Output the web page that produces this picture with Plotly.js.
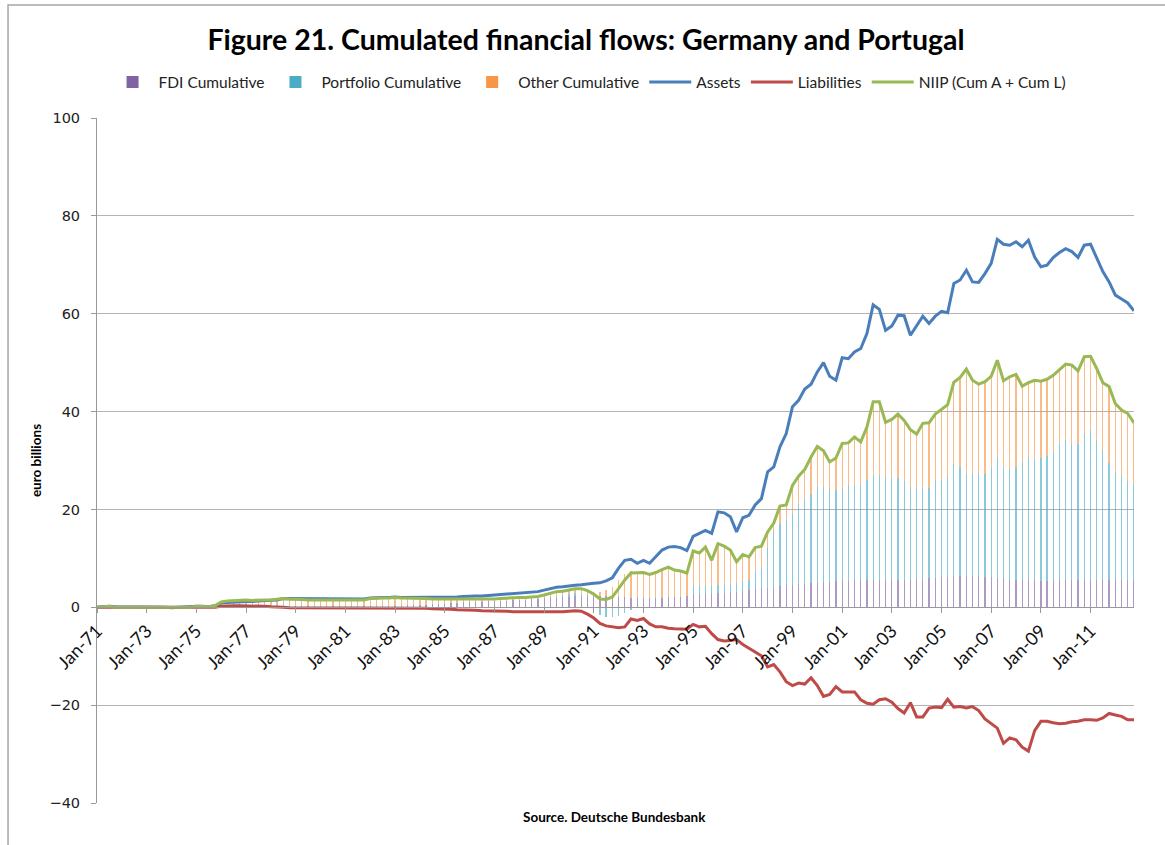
<!DOCTYPE html>
<html>
<head>
<meta charset="utf-8">
<script src="https://cdn.plot.ly/plotly-3.0.1.min.js"></script>
<style>html,body{margin:0;padding:0;background:#fff;}#chart{width:1165px;height:845px;}</style>
</head>
<body>
<div id="chart"></div>
<script>
// Quarterly observations, 1971 Q1 .. 2012 Q4 (168 quarters)
const startYear = 1971;
const endYear = 2012;

const assets = [
  0, 0.1, 0.2, 0.1, 0.1, 0, 0, 0,
  0, 0.1, 0, 0, -0.1, 0, 0.1, 0.1,
  0.2, 0.2, 0.1, 0.3, 0.9, 1.0, 1.1, 1.1,
  1.2, 1.2, 1.3, 1.3, 1.4, 1.5, 1.8, 1.8,
  1.8, 1.7, 1.7, 1.7, 1.7, 1.7, 1.7, 1.7,
  1.8, 1.8, 1.8, 1.7, 1.9, 2.0, 2.0, 2.0,
  2.1, 2.0, 2.0, 2.0, 2.0, 2.0, 2.0, 2.0,
  2.1, 2.1, 2.1, 2.2, 2.3, 2.3, 2.3, 2.4,
  2.5, 2.6, 2.7, 2.8, 2.9, 3.0, 3.1, 3.2,
  3.5, 3.8, 4.1, 4.2, 4.4, 4.5, 4.6, 4.8,
  4.9, 5.0, 5.4, 6.0, 8.0, 9.6, 9.8, 9.0,
  9.6, 9.0, 10.3, 11.7, 12.3, 12.4, 12.2, 11.6,
  14.5, 15.1, 15.7, 15.1, 19.5, 19.3, 18.5, 15.4,
  18.3, 18.8, 20.9, 22.2, 27.7, 28.7, 32.8, 35.5,
  41.0, 42.3, 44.6, 45.6, 48.1, 50.0, 47.2, 46.4,
  51.0, 50.8, 52.2, 52.9, 56.0, 61.8, 60.9, 56.6,
  57.5, 59.7, 59.6, 55.6, 57.7, 59.5, 58.0, 59.5,
  60.5, 60.2, 66.2, 66.9, 68.9, 66.5, 66.4, 68.2,
  70.3, 75.2, 74.2, 74.0, 74.7, 73.7, 75.0, 71.6,
  69.6, 69.9, 71.5, 72.5, 73.3, 72.7, 71.5, 74.0,
  74.2, 71.3, 68.6, 66.5, 63.8, 63.0, 62.2, 60.6
];

const liabilities = [
  0, 0, 0, -0.1, -0.1, 0, 0, -0.1,
  -0.1, -0.1, 0, 0, 0, -0.1, -0.1, -0.1,
  0, 0, 0, 0, 0.2, 0.3, 0.3, 0.3,
  0.3, 0.2, 0.2, 0.2, 0.1, 0.1, 0, -0.1,
  -0.1, -0.1, -0.2, -0.2, -0.2, -0.2, -0.2, -0.2,
  -0.2, -0.2, -0.2, -0.2, -0.1, -0.1, -0.1, -0.1,
  -0.1, -0.1, -0.1, -0.1, -0.2, -0.2, -0.3, -0.3,
  -0.4, -0.4, -0.5, -0.5, -0.6, -0.6, -0.7, -0.7,
  -0.8, -0.8, -0.8, -0.9, -0.9, -1.0, -1.0, -1.0,
  -1.0, -1.0, -0.9, -0.9, -0.8, -0.7, -0.8, -1.4,
  -2.2, -3.3, -3.8, -4.0, -4.2, -4.0, -2.4, -2.7,
  -2.3, -3.4, -4.0, -4.0, -4.3, -4.4, -4.4, -4.5,
  -3.5, -4.0, -3.9, -5.4, -6.6, -6.9, -6.8, -6.6,
  -7.6, -8.4, -9.2, -9.9, -12.2, -11.7, -13.2, -15.2,
  -16.0, -15.5, -15.7, -14.4, -16.0, -18.2, -17.8, -16.2,
  -17.3, -17.3, -17.3, -18.9, -19.6, -19.8, -18.9, -18.7,
  -19.4, -20.7, -21.6, -19.5, -22.4, -22.4, -20.6, -20.4,
  -20.5, -18.8, -20.4, -20.3, -20.6, -20.3, -21.1, -22.8,
  -23.7, -24.7, -27.8, -26.7, -27.1, -28.6, -29.4, -25.2,
  -23.3, -23.3, -23.6, -23.8, -23.7, -23.4, -23.3, -23.0,
  -23.0, -23.1, -22.6, -21.7, -22.0, -22.3, -23.0, -23.0
];

const niip = [
  0, 0.1, 0.2, 0, 0, 0, 0, -0.1,
  -0.1, 0, 0, 0, -0.1, -0.1, 0, 0,
  0.2, 0.2, 0.1, 0.3, 1.1, 1.3, 1.4, 1.4,
  1.5, 1.4, 1.5, 1.5, 1.5, 1.6, 1.8, 1.7,
  1.7, 1.6, 1.5, 1.5, 1.5, 1.5, 1.5, 1.5,
  1.6, 1.6, 1.6, 1.5, 1.8, 1.9, 1.9, 1.9,
  2.0, 1.9, 1.9, 1.9, 1.8, 1.8, 1.7, 1.7,
  1.7, 1.7, 1.6, 1.7, 1.7, 1.7, 1.6, 1.7,
  1.7, 1.8, 1.9, 1.9, 2.0, 2.0, 2.1, 2.2,
  2.5, 2.8, 3.2, 3.3, 3.6, 3.8, 3.8, 3.4,
  2.7, 1.7, 1.6, 2.1, 3.8, 5.6, 7.0, 7.0,
  7.1, 6.7, 7.1, 7.7, 8.2, 7.6, 7.4, 7.0,
  11.5, 11.1, 12.3, 9.6, 13.0, 12.5, 11.7, 9.3,
  10.8, 10.3, 12.2, 12.5, 15.4, 17.2, 20.7, 20.9,
  24.9, 26.8, 28.2, 30.7, 32.9, 32.0, 29.7, 30.5,
  33.5, 33.6, 34.8, 33.8, 36.9, 42.0, 42.0, 37.8,
  38.4, 39.5, 38.2, 36.3, 35.4, 37.6, 37.7, 39.5,
  40.4, 41.4, 46.0, 47.0, 48.7, 46.4, 45.6, 46.1,
  47.2, 50.5, 46.3, 47.1, 47.6, 45.2, 45.9, 46.4,
  46.2, 46.6, 47.4, 48.5, 49.7, 49.5, 48.3, 51.2,
  51.3, 48.8, 45.9, 45.1, 41.6, 40.3, 39.6, 37.7
];

const fdiCum = [
  0, 0, 0, 0, 0, 0, 0, 0,
  0, 0, 0, 0, 0, 0, 0, 0,
  0, 0, 0, 0, 0.1, 0.1, 0.1, 0.1,
  0.1, 0.1, 0.1, 0.1, 0.1, 0.1, 0.1, 0.1,
  0.2, 0.2, 0.2, 0.2, 0.2, 0.2, 0.2, 0.2,
  0.2, 0.2, 0.2, 0.2, 0.2, 0.2, 0.2, 0.2,
  0.3, 0.3, 0.4, 0.4, 0.5, 0.5, 0.6, 0.6,
  0.7, 0.8, 0.9, 1.0, 1.0, 1.1, 1.1, 1.2,
  1.2, 1.3, 1.3, 1.4, 1.5, 1.5, 1.6, 1.7,
  1.8, 1.9, 2.0, 2.1, 2.2, 2.3, 2.3, 2.4,
  2.4, 2.4, 2.3, 2.2, 2.2, 2.1, 2.0, 2.0,
  1.9, 1.9, 2.0, 2.0, 2.1, 2.1, 2.2, 2.4,
  2.7, 2.8, 2.8, 2.9, 3.0, 3.0, 3.1, 3.2,
  3.4, 3.6, 3.8, 3.9, 4.0, 4.2, 4.4, 4.5,
  4.6, 4.7, 4.8, 4.9, 5.0, 5.1, 5.2, 5.3,
  5.4, 5.4, 5.5, 5.5, 5.5, 5.6, 5.6, 5.6,
  5.6, 5.6, 5.6, 5.6, 5.7, 5.8, 5.9, 6.0,
  6.1, 6.2, 6.3, 6.3, 6.3, 6.3, 6.3, 6.2,
  6.1, 6.0, 6.0, 5.6, 5.5, 5.5, 5.5, 5.5,
  5.4, 5.4, 5.4, 5.5, 5.5, 5.5, 5.6, 5.6,
  5.6, 5.6, 5.6, 5.6, 5.6, 5.5, 5.5, 5.5
];

const portfolioCum = [
  0, 0, 0, 0, 0, 0, 0, 0,
  0, 0, 0, 0, 0, 0, 0, 0,
  0, 0, 0, 0, 0, 0, 0, 0,
  0, 0, 0, 0, 0, 0, 0, 0,
  0, 0, 0, 0, 0, 0, 0, 0,
  0, 0, 0, 0, 0, 0, 0, 0,
  0, 0, 0, 0, 0, 0, 0, 0,
  0, 0, 0, 0, 0, 0, 0, 0,
  0, 0, 0, 0, 0, 0, 0, 0,
  0.2, 0.3, 0.4, 0.5, 0.6, 0.6, 0.5, 0.3,
  -0.5, -1.5, -2.0, -2.0, -1.7, -1.2, -0.5, 0,
  0, 0, 0, 0, 0, 0, 0, 0,
  1.6, 1.6, 1.6, 1.5, 1.5, 1.5, 1.6, 1.7,
  1.9, 1.9, 3.6, 4.3, 8.3, 11.2, 12.6, 13.5,
  14.4, 16.5, 17.4, 18.3, 19.7, 19.4, 18.9, 18.7,
  18.7, 19.5, 19.4, 19.4, 20.6, 21.5, 21.4, 21.3,
  20.9, 20.9, 20.2, 19.0, 18.9, 18.5, 18.4, 20.0,
  20.2, 20.4, 22.9, 22.3, 21.0, 21.0, 20.9, 21.1,
  22.5, 24.5, 22.5, 22.6, 23.2, 24.2, 25.2, 24.7,
  25.1, 25.5, 26.4, 28.0, 28.7, 27.8, 27.7, 29.9,
  30.7, 28.6, 26.6, 23.8, 22.1, 21.5, 20.3, 19.8
];

const otherCum = [
  0, 0.1, 0.2, 0, 0, 0, 0, -0.1,
  -0.1, 0, 0, 0, -0.1, -0.1, 0, 0,
  0.2, 0.2, 0.1, 0.3, 1.0, 1.2, 1.3, 1.3,
  1.4, 1.3, 1.4, 1.4, 1.4, 1.5, 1.7, 1.6,
  1.5, 1.4, 1.3, 1.3, 1.3, 1.3, 1.3, 1.3,
  1.4, 1.4, 1.4, 1.3, 1.6, 1.7, 1.7, 1.7,
  1.7, 1.6, 1.5, 1.5, 1.3, 1.3, 1.1, 1.1,
  1.0, 0.9, 0.7, 0.7, 0.7, 0.6, 0.5, 0.5,
  0.5, 0.5, 0.6, 0.5, 0.5, 0.5, 0.5, 0.5,
  0.5, 0.6, 0.8, 0.7, 0.8, 0.9, 1.0, 0.7,
  0.8, 0.8, 1.3, 1.9, 3.3, 4.7, 5.5, 5.0,
  5.2, 4.8, 5.1, 5.7, 6.1, 5.5, 5.2, 4.6,
  7.2, 6.7, 7.9, 5.2, 8.5, 8.0, 7.0, 4.4,
  5.5, 4.8, 4.8, 4.3, 3.1, 1.8, 3.7, 2.9,
  5.9, 5.6, 6.0, 7.5, 8.2, 7.5, 5.6, 6.5,
  9.4, 8.7, 9.9, 8.9, 10.8, 14.9, 15.0, 10.9,
  11.9, 13.0, 12.4, 11.7, 10.8, 13.3, 13.4, 13.5,
  14.1, 14.8, 16.8, 18.4, 21.4, 19.1, 18.4, 18.8,
  18.6, 20.0, 17.8, 18.9, 18.9, 15.5, 15.2, 16.2,
  15.7, 15.7, 15.6, 15.0, 15.5, 16.2, 15.0, 15.7,
  15.0, 14.6, 13.7, 15.7, 13.9, 13.3, 13.8, 12.4
];

const tickLabels = ['Jan-71','Jan-73','Jan-75','Jan-77','Jan-79','Jan-81','Jan-83','Jan-85',
  'Jan-87','Jan-89','Jan-91','Jan-93','Jan-95','Jan-97','Jan-99','Jan-01','Jan-03',
  'Jan-05','Jan-07','Jan-09','Jan-11'];
const tickDates = ['1971-01-01','1973-01-01','1975-01-01','1977-01-01','1979-01-01','1981-01-01',
  '1983-01-01','1985-01-01','1987-01-01','1989-01-01','1991-01-01','1993-01-01','1995-01-01',
  '1997-01-01','1999-01-01','2001-01-01','2003-01-01','2005-01-01','2007-01-01','2009-01-01','2011-01-01'];

// quarter start dates (categories of the x axis)
const months = ['01','04','07','10'];
const quarters = [];
for (let y = startYear; y <= endYear; y++) {
  for (const m of months) quarters.push(y + '-' + m + '-01');
}

const barW = 1.6e9;
const mkBar = (name, y, color) => ({
  type: 'bar', name: name, x: quarters, y: y,
  width: barW, marker: {color: color, opacity: 0.65, line: {width: 0}},
  hoverinfo: 'skip'
});
const mkLine = (name, y, color) => ({
  type: 'scatter', mode: 'lines', name: name, x: quarters, y: y,
  line: {color: color, width: 3}, hoverinfo: 'skip'
});

const data = [
  mkBar('FDI Cumulative', fdiCum, '#8064A2'),
  mkBar('Portfolio Cumulative', portfolioCum, '#4BACC6'),
  mkBar('Other Cumulative', otherCum, '#F79646'),
  mkLine('Assets', assets, '#4A7EBB'),
  mkLine('Liabilities', liabilities, '#BE4B48'),
  mkLine('NIIP (Cum A + Cum L)', niip, '#98B954')
];

const gridCol = '#B3B3B3';
const layout = {
  width: 1165, height: 845,
  paper_bgcolor: '#ffffff', plot_bgcolor: '#ffffff',
  margin: {l: 97, r: 31, t: 118, b: 42},
  barmode: 'relative', bargap: 0,
  showlegend: true,
  font: {family: 'Lato, "Open Sans", sans-serif', color: '#000'},
  title: {
    text: '<b>Figure 21. Cumulated financial flows: Germany and Portugal</b>',
    font: {family: 'Lato, "Open Sans", sans-serif', size: 28.5, color: '#000'},
    x: 0.503, xref: 'container', xanchor: 'center',
    y: 0.953, yref: 'container', yanchor: 'middle'
  },
  legend: {
    orientation: 'h', traceorder: 'normal',
    x: 0.4745, xanchor: 'center', y: 1.052, yanchor: 'middle',
    font: {family: 'Lato, "Open Sans", sans-serif', size: 15.5, color: '#222'},
    itemwidth: 42, bgcolor: 'rgba(0,0,0,0)'
  },
  xaxis: {
    type: 'date',
    range: ['1971-01-01', '2012-10-01'],
    anchor: 'free', position: 40 / 140,
    tickmode: 'array', tickvals: tickDates, ticktext: tickLabels,
    tickangle: -45,
    ticks: 'outside', ticklen: 5, tickcolor: '#999',
    tickfont: {family: 'Lato, "Open Sans", sans-serif', size: 18, color: '#111'},
    showline: true, linecolor: '#999', linewidth: 1,
    showgrid: false, zeroline: false
  },
  yaxis: {
    range: [-40, 100], dtick: 20, tick0: 0,
    showgrid: true, gridcolor: gridCol, gridwidth: 1,
    zeroline: true, zerolinecolor: '#999', zerolinewidth: 1,
    showline: true, linecolor: '#999', linewidth: 1,
    ticks: 'outside', ticklen: 5, tickcolor: '#999',
    ticklabelstandoff: 8,
    tickfont: {family: '"DejaVu Sans", Verdana, sans-serif', size: 14.5, color: '#222'},
    title: {text: '<b>euro billions</b>', standoff: 4,
      font: {family: 'Lato, "Open Sans", sans-serif', size: 13.5, color: '#000'}}
  },
  annotations: [{
    text: '<b>Source. Deutsche Bundesbank</b>',
    xref: 'paper', yref: 'paper', x: 0.4986, y: -0.0204,
    xanchor: 'center', yanchor: 'middle', showarrow: false,
    font: {family: 'Lato, "Open Sans", sans-serif', size: 13.5, color: '#000'}
  }],
  shapes: [{
    type: 'rect', xref: 'paper', yref: 'paper',
    x0: -0.0858, x1: 1.2, y0: -0.2, y1: 1.165,
    line: {color: '#A6A6A6', width: 1.5}, fillcolor: 'rgba(0,0,0,0)', layer: 'below'
  }]
};

Plotly.newPlot('chart', data, layout, {staticPlot: true, displayModeBar: false});
</script>
</body>
</html>
